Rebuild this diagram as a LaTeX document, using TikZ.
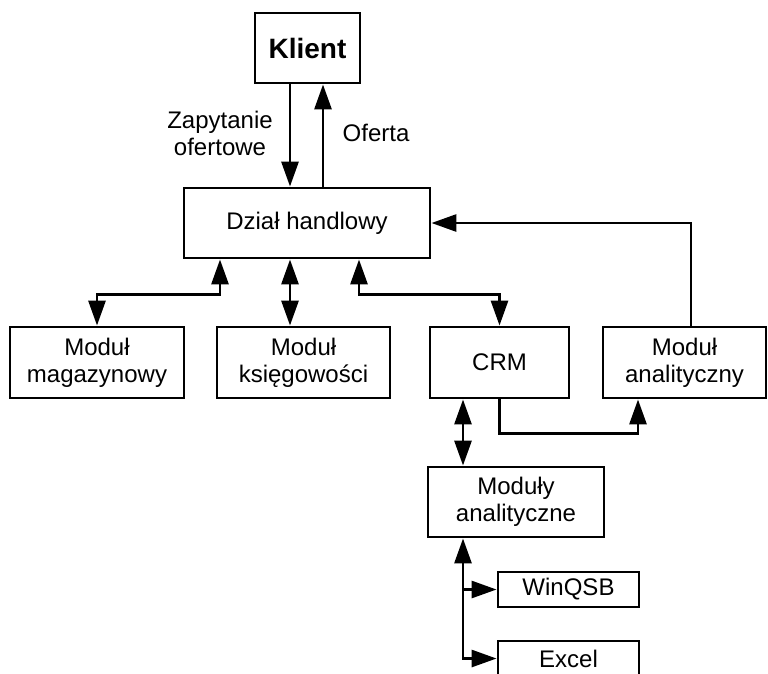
\documentclass[tikz,border=0pt]{standalone}
\usepackage{fontspec}
\setmainfont{Liberation Sans}
\usetikzlibrary{arrows.meta}
\begin{document}
\begin{tikzpicture}[x=1pt,y=-1pt,
  box/.style={draw,line width=2.9pt,inner sep=0pt,align=center,
    font=\fontsize{24}{27}\selectfont},
  lbl/.style={inner sep=0pt,align=center,font=\fontsize{24}{27}\selectfont},
  tip/.tip={Triangle[width=17pt,length=25pt]},
  conn/.style={line width=2.9pt},
  arr/.style={conn,-tip},
  dbl/.style={conn,tip-tip}]
\useasboundingbox (0,0) rectangle (768,673);
\node[box,minimum width=105pt,minimum height=70pt,font=\fontsize{28}{32}\selectfont\bfseries] (klient) at (307.5,48) {Klient};
\node[box,minimum width=246pt,minimum height=70pt] (dzial) at (307,223) {Dział handlowy};
\node[box,minimum width=174pt,minimum height=71pt] (mag) at (97,362.5) {Moduł\\magazynowy};
\node[box,minimum width=173pt,minimum height=71pt] (ksieg) at (303.5,362.5) {Moduł\\księgowości};
\node[box,minimum width=139pt,minimum height=71pt] (crm) at (499.5,362.5) {CRM};
\node[box,minimum width=163pt,minimum height=71pt] (anal) at (684.5,362.5) {Moduł\\analityczny};
\node[box,minimum width=176pt,minimum height=70pt] (moduly) at (516,502) {Moduły\\analityczne};
\node[box,minimum width=141pt,minimum height=35pt] (winqsb) at (568.5,589.5) {WinQSB};
\node[box,minimum width=141pt,minimum height=35pt] (excel) at (568.5,658.5) {Excel};
\node[lbl] (zap) at (220,133) {Zapytanie\\ofertowe};
\node[lbl] (oferta) at (376,133) {Oferta};
% Klient <-> Dzial
\draw[arr] ([xshift=-17.5pt]klient.south) -- ([xshift=-17pt]dzial.north);
\draw[arr] ([xshift=16pt]dzial.north) -- ([xshift=15.5pt]klient.south);
% Dzial <-> modules
\draw[dbl] ([xshift=-87pt]dzial.south) -- ++(0,35) -| (mag.north);
\draw[dbl] ([xshift=-17pt]dzial.south) -- ([xshift=-13.5pt]ksieg.north);
\draw[dbl] ([xshift=52pt]dzial.south) -- ++(0,35) -| (crm.north);
\draw[arr] ([xshift=6.5pt]anal.north) |- (dzial.east);
\draw[arr] (crm.south) -- ++(0,34) -| ([xshift=-46.5pt]anal.south);
\draw[dbl] ([xshift=-36.5pt]crm.south) -- ([xshift=-53pt]moduly.north);
% Moduly -> tools
\coordinate (mline) at ([xshift=-53pt]moduly.south);
\draw[dbl] (mline) |- (excel.west);
\draw[arr] (mline |- winqsb.west) -- (winqsb.west);
\end{tikzpicture}
\end{document}
